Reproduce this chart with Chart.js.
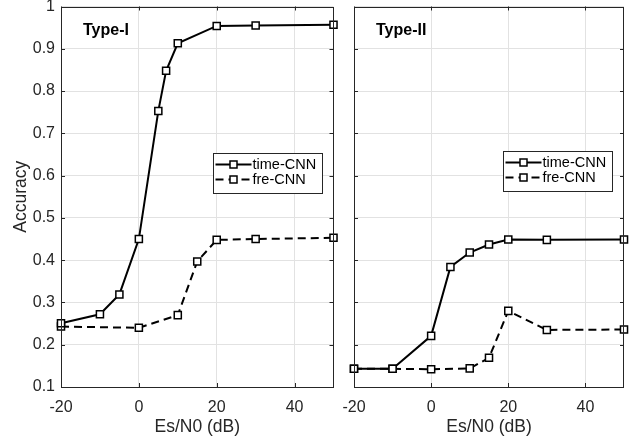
<!DOCTYPE html>
<html>
<head>
<meta charset="utf-8">
<script src="https://cdn.jsdelivr.net/npm/chart.js@4/dist/chart.umd.min.js"></script>
<style>
  body { margin: 0; background: #fff; }
  canvas { position: absolute; top: 0; }
  #left { left: 0; }
  #right { left: 340px; }
</style>
</head>
<body>
<canvas id="left" width="340" height="441"></canvas>
<canvas id="right" width="297" height="441"></canvas>
<script>
// values
const snrType1Time = [-20, -10, -5, 0, 5, 7, 10, 20, 30, 50];
const accType1Time = [0.251, 0.272, 0.319, 0.45, 0.753, 0.848, 0.913, 0.954, 0.955, 0.957];
const snrType1Fre = [-20, 0, 10, 15, 20, 30, 50];
const accType1Fre = [0.243, 0.240, 0.270, 0.397, 0.448, 0.450, 0.453];

const snrType2Time = [-20, -10, 0, 5, 10, 15, 20, 30, 50];
const accType2Time = [0.143, 0.143, 0.221, 0.384, 0.418, 0.437, 0.449, 0.448, 0.449];
const snrType2Fre = [-20, -10, 0, 10, 15, 20, 30, 50];
const accType2Fre = [0.143, 0.143, 0.142, 0.144, 0.169, 0.280, 0.235, 0.236];

const xTicks = [-20, 0, 20, 40];
const yTicks = [0.1, 0.2, 0.3, 0.4, 0.5, 0.6, 0.7, 0.8, 0.9, 1];
const seriesNames = ['time-CNN', 'fre-CNN'];

const axisColor = '#262626';
const gridColor = '#e2e2e2';
const fontFamily = '"Liberation Sans", Arial, Helvetica, sans-serif';

Chart.defaults.font.family = fontFamily;
Chart.defaults.color = axisColor;

function toPoints(xs, ys) {
  return xs.map((x, i) => ({ x: x, y: ys[i] }));
}

function series(label, xs, ys, dashed) {
  return {
    label: label,
    data: toPoints(xs, ys),
    borderColor: '#000',
    borderWidth: 2,
    borderDash: dashed ? [8, 5] : [],
    pointStyle: 'rect',
    pointRadius: 5,
    pointBorderWidth: 1.5,
    pointBackgroundColor: '#fff',
    pointBorderColor: '#000',
    tension: 0,
    clip: false
  };
}

// no extra room for half labels, the plot box is fixed
function noPad(s) {
  s.paddingTop = 0;
  s.paddingBottom = 0;
  s.paddingLeft = 0;
  s.paddingRight = 0;
}

// box, inward ticks, panel label and legend, the way matlab draws them
const frame = {
  id: 'frame',
  afterDraw(chart, args, opts) {
    const { ctx, chartArea: a, scales } = chart;
    ctx.save();
    ctx.strokeStyle = axisColor;
    ctx.lineWidth = 1;
    ctx.setLineDash([]);
    ctx.strokeRect(Math.round(a.left) + 0.5, Math.round(a.top) + 0.5,
      Math.round(a.width) - 1, Math.round(a.height) - 1);
    ctx.beginPath();
    xTicks.forEach(v => {
      const px = Math.round(scales.x.getPixelForValue(v)) + 0.5;
      ctx.moveTo(px, a.bottom); ctx.lineTo(px, a.bottom - 4);
      ctx.moveTo(px, a.top); ctx.lineTo(px, a.top + 4);
    });
    yTicks.forEach(v => {
      const py = Math.round(scales.y.getPixelForValue(v)) + 0.5;
      ctx.moveTo(a.left, py); ctx.lineTo(a.left + 4, py);
      ctx.moveTo(a.right, py); ctx.lineTo(a.right - 4, py);
    });
    ctx.stroke();

    ctx.fillStyle = '#000';
    ctx.font = 'bold 16px ' + fontFamily;
    ctx.textBaseline = 'middle';
    ctx.fillText(opts.label, a.left + 22, a.top + 24);

    // legend
    const bw = 109, bh = 40;
    const bx = Math.round(a.right - 12 - bw) + 0.5;
    const by = Math.round(opts.legendTop) + 0.5;
    ctx.fillStyle = '#fff';
    ctx.fillRect(bx, by, bw, bh);
    ctx.strokeStyle = axisColor;
    ctx.lineWidth = 1;
    ctx.strokeRect(bx, by, bw, bh);
    ctx.font = '14.5px ' + fontFamily;
    chart.data.datasets.forEach((ds, i) => {
      const ly = by + 11 + i * 15;
      ctx.strokeStyle = '#000';
      ctx.lineWidth = 2;
      ctx.setLineDash(ds.borderDash);
      ctx.beginPath();
      ctx.moveTo(bx + 2, ly);
      ctx.lineTo(bx + 38, ly);
      ctx.stroke();
      ctx.setLineDash([]);
      ctx.lineWidth = 1.5;
      ctx.fillStyle = '#fff';
      ctx.fillRect(bx + 16.5, ly - 3.5, 7, 7);
      ctx.strokeRect(bx + 16.5, ly - 3.5, 7, 7);
      ctx.fillStyle = '#000';
      ctx.fillText(ds.label, bx + 39, ly);
    });
    ctx.restore();
  }
};

function makeChart(id, label, times, fres, showY, legendTop, padRight) {
  return new Chart(document.getElementById(id), {
    type: 'line',
    data: {
      datasets: [
        series(seriesNames[0], times[0], times[1], false),
        series(seriesNames[1], fres[0], fres[1], true)
      ]
    },
    options: {
      responsive: false,
      animation: false,
      layout: { padding: { top: 6, right: padRight, left: 0, bottom: 0 } },
      plugins: {
        legend: { display: false },
        tooltip: { enabled: false },
        frame: { label: label, legendTop: legendTop }
      },
      scales: {
        x: {
          type: 'linear',
          min: -20,
          max: 50,
          afterBuildTicks: s => { s.ticks = xTicks.map(v => ({ value: v })); },
          afterFit: s => { s.height = 54; noPad(s); },
          grid: { color: gridColor, drawTicks: false },
          border: { display: false },
          ticks: { font: { size: 16 }, padding: 11, maxRotation: 0, callback: v => String(v) },
          title: { display: true, text: 'Es/N0 (dB)', font: { size: 17.5 }, padding: { top: 0, bottom: 3 } }
        },
        y: {
          min: 0.1,
          max: 1,
          afterBuildTicks: s => { s.ticks = yTicks.map(v => ({ value: v })); },
          afterFit: s => { s.width = showY ? 61 : 14; noPad(s); },
          grid: { color: gridColor, drawTicks: false },
          border: { display: false },
          ticks: { display: showY, font: { size: 16 }, padding: 6, callback: v => String(v) },
          title: { display: showY, text: 'Accuracy', font: { size: 17.5 }, padding: { top: 11, bottom: 0 } }
        }
      }
    },
    plugins: [frame]
  });
}

makeChart('left', 'Type-I', [snrType1Time, accType1Time], [snrType1Fre, accType1Fre], true, 153, 6);
makeChart('right', 'Type-II', [snrType2Time, accType2Time], [snrType2Fre, accType2Fre], false, 151, 13);
</script>
</body>
</html>
